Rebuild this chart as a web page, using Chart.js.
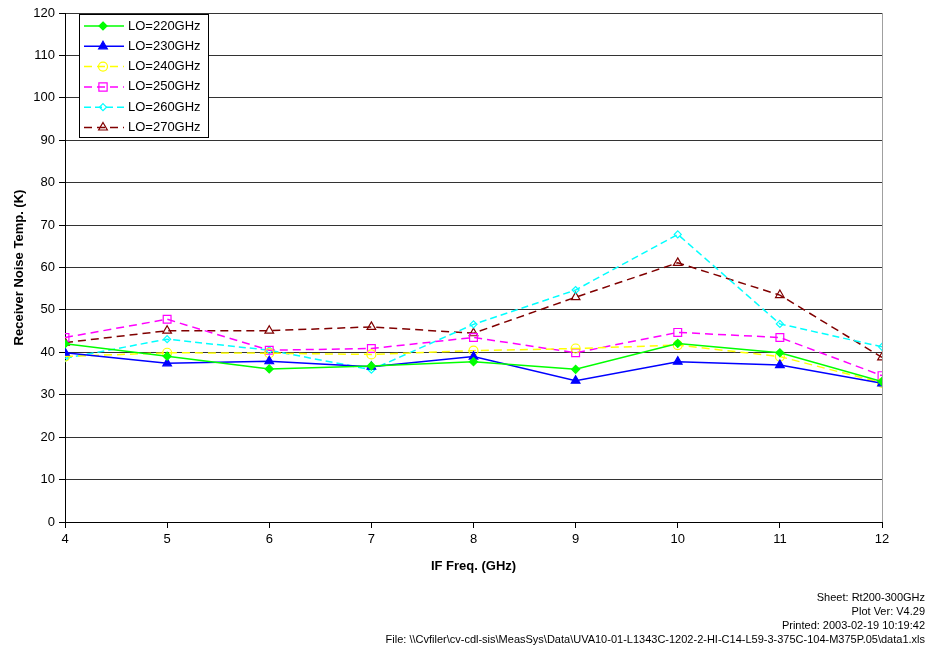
<!DOCTYPE html>
<html>
<head>
<meta charset="utf-8">
<script src="https://cdn.jsdelivr.net/npm/chart.js@4/dist/chart.umd.min.js"></script>
<style>
  body { margin: 0; background: #fff; }
</style>
</head>
<body>
<canvas id="noiseChart" width="927" height="647"></canvas>
<script>
// IF frequencies (GHz)
const freqs = [4, 5, 6, 7, 8, 9, 10, 11, 12];

// receiver noise temperature (K) per LO setting
const lo220 = [42.0, 39.1, 36.1, 36.8, 37.8, 36.0, 42.1, 39.9, 33.1];
const lo230 = [39.9, 37.4, 37.9, 36.6, 39.0, 33.3, 37.8, 37.0, 32.7];
const lo240 = [39.0, 39.9, 39.8, 39.5, 40.4, 40.9, 41.7, 39.0, 32.8];
const lo250 = [43.5, 47.8, 40.5, 40.9, 43.5, 39.9, 44.7, 43.5, 34.5];
const lo260 = [38.6, 43.1, 40.5, 35.9, 46.6, 54.7, 67.8, 46.7, 41.3];
const lo270 = [42.3, 45.1, 45.1, 46.0, 44.5, 53.0, 61.1, 53.5, 38.8];

const seriesLabels = ['LO=220GHz', 'LO=230GHz', 'LO=240GHz', 'LO=250GHz', 'LO=260GHz', 'LO=270GHz'];
const footerLines = [
    'Sheet: Rt200-300GHz',
    'Plot Ver: V4.29',
    'Printed: 2003-02-19 10:19:42',
    'File: \\\\Cvfiler\\cv-cdl-sis\\MeasSys\\Data\\UVA10-01-L1343C-1202-2-HI-C14-L59-3-375C-104-M375P.05\\data1.xls'
];

const FONT = '"Liberation Sans", Arial, sans-serif';

function pts(values) {
    return freqs.map((f, i) => ({ x: f, y: values[i] }));
}

function makeSet(label, values, color, dash, style, radius, filled) {
    return {
        label: label,
        data: pts(values),
        borderColor: color,
        borderWidth: 1.5,
        borderDash: dash,
        pointStyle: style,
        pointRadius: radius,
        pointBorderColor: color,
        pointBorderWidth: 1.2,
        pointBackgroundColor: filled ? color : 'rgba(0,0,0,0)',
        tension: 0
    };
}

// draw one marker (used for the legend)
function drawMarker(ctx, style, x, y, r, color, filled) {
    ctx.save();
    ctx.setLineDash([]);
    ctx.strokeStyle = color;
    ctx.fillStyle = color;
    ctx.lineWidth = 1.2;
    ctx.beginPath();
    if (style === 'circle') {
        ctx.arc(x, y, r, 0, Math.PI * 2);
    } else if (style === 'rect') {
        const s = r * 0.75;
        ctx.rect(x - s, y - s, s * 2, s * 2);
    } else if (style === 'rectRot') {
        ctx.moveTo(x, y - r);
        ctx.lineTo(x + r, y);
        ctx.lineTo(x, y + r);
        ctx.lineTo(x - r, y);
        ctx.closePath();
    } else if (style === 'triangle') {
        ctx.moveTo(x, y - r);
        ctx.lineTo(x + r * 0.87, y + r * 0.5);
        ctx.lineTo(x - r * 0.87, y + r * 0.5);
        ctx.closePath();
    }
    if (filled) ctx.fill();
    ctx.stroke();
    ctx.restore();
}

const legendBox = {
    id: 'legendBox',
    afterDatasetsDraw(chart) {
        const ctx = chart.ctx;
        const left = 79, top = 14, w = 129, h = 123;
        ctx.save();
        ctx.fillStyle = '#fff';
        ctx.fillRect(left, top, w, h);
        ctx.strokeStyle = '#000';
        ctx.lineWidth = 1;
        ctx.strokeRect(left + 0.5, top + 0.5, w, h);
        ctx.font = '13px ' + FONT;
        ctx.textBaseline = 'middle';
        chart.data.datasets.forEach((ds, i) => {
            const y = top + 12 + i * 20.3;
            ctx.strokeStyle = ds.borderColor;
            ctx.lineWidth = ds.borderWidth;
            ctx.setLineDash(ds.borderDash);
            ctx.beginPath();
            ctx.moveTo(84, y);
            ctx.lineTo(124, y);
            ctx.stroke();
            ctx.setLineDash([]);
            const filled = ds.pointBackgroundColor !== 'rgba(0,0,0,0)';
            drawMarker(ctx, ds.pointStyle, 103, y, ds.pointRadius, ds.borderColor, filled);
            ctx.fillStyle = '#000';
            ctx.fillText(ds.label, 128, y);
        });
        ctx.restore();
    },
    afterDraw(chart) {
        const ctx = chart.ctx;
        const area = chart.chartArea;
        ctx.save();
        // right edge of the plot
        ctx.strokeStyle = '#a0a0a0';
        ctx.lineWidth = 1;
        ctx.beginPath();
        ctx.moveTo(Math.round(area.right) + 0.5, area.top);
        ctx.lineTo(Math.round(area.right) + 0.5, area.bottom);
        ctx.stroke();
        // footer
        ctx.fillStyle = '#000';
        ctx.font = '11px ' + FONT;
        ctx.textAlign = 'right';
        ctx.textBaseline = 'middle';
        footerLines.forEach((t, i) => ctx.fillText(t, 925, 597.5 + i * 14.3));
        ctx.restore();
    }
};

const config = {
    type: 'line',
    data: {
        datasets: [
            makeSet(seriesLabels[0], lo220, '#00ff00', [], 'rectRot', 4, true),
            makeSet(seriesLabels[1], lo230, '#0000ff', [], 'triangle', 5, true),
            makeSet(seriesLabels[2], lo240, '#ffff00', [8, 5], 'circle', 4.5, false),
            makeSet(seriesLabels[3], lo250, '#ff00ff', [8, 5], 'rect', 5.5, false),
            makeSet(seriesLabels[4], lo260, '#00ffff', [7, 4], 'rectRot', 3.5, false),
            makeSet(seriesLabels[5], lo270, '#800000', [8, 5], 'triangle', 5, false)
        ]
    },
    options: {
        responsive: false,
        devicePixelRatio: 1,
        animation: false,
        events: [],
        layout: { padding: { left: 8, top: 13, right: 45, bottom: 69 } },
        plugins: {
            legend: { display: false },
            tooltip: { enabled: false }
        },
        scales: {
            x: {
                type: 'linear',
                min: 4,
                max: 12,
                afterFit: (s) => { s.height = 56; },
                ticks: { stepSize: 1, color: '#000', font: { family: FONT, size: 13 }, padding: 4 },
                grid: { drawOnChartArea: false, tickLength: 6, tickColor: '#000' },
                border: { color: '#000', width: 1 },
                title: {
                    display: true,
                    text: 'IF Freq. (GHz)',
                    color: '#000',
                    font: { family: FONT, size: 13, weight: 'bold' },
                    padding: { top: 0, bottom: 4 }
                }
            },
            y: {
                min: 0,
                max: 120,
                afterFit: (s) => { s.width = 57; },
                ticks: { stepSize: 10, color: '#000', font: { family: FONT, size: 13 }, padding: 4 },
                grid: { color: '#333', tickLength: 6, tickColor: '#000' },
                border: { color: '#000', width: 1 },
                title: {
                    display: true,
                    text: 'Receiver Noise Temp. (K)',
                    color: '#000',
                    font: { family: FONT, size: 13, weight: 'bold' },
                    padding: { top: 4, bottom: 0 }
                }
            }
        }
    },
    plugins: [legendBox]
};

const noiseChart = new Chart(document.getElementById('noiseChart'), config);
</script>
</body>
</html>
